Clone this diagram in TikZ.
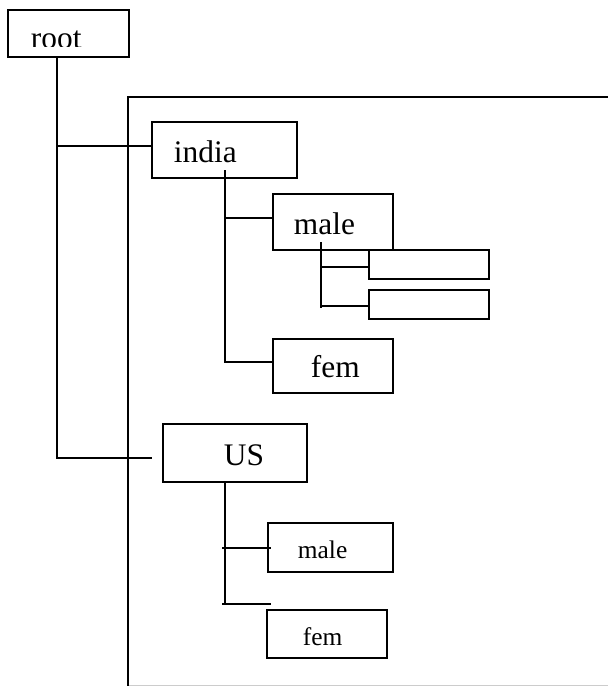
\documentclass[tikz,border=0pt]{standalone}
\usepackage{fontspec}
\setmainfont{Liberation Serif}
\usetikzlibrary{calc}
\begin{document}
\begin{tikzpicture}[x=1bp, y=-1bp,
  line width=1.9bp,
  box/.style={draw, rectangle, inner sep=0pt, line width=1.9bp},
  bigtxt/.style={inner sep=0pt, anchor=base west, font=\fontsize{31.5}{36}\selectfont},
  smalltxt/.style={inner sep=0pt, anchor=base west, font=\fontsize{25.5}{30}\selectfont},
  link/.style={draw, line width=1.9bp}]
\useasboundingbox (0,0) rectangle (608,686);

% outer frame (runs past the page on the right and bottom)
\draw (620,97) -- (128,97) -- (128,686);
\draw[black!20, line width=1bp] (129,685.5) -- (608,685.5);

% boxes
\node[box, minimum width=121bp, minimum height=47bp] (root)  at (68.5,33.5) {};
\node[box, minimum width=145bp, minimum height=56bp] (india) at (224.5,150) {};
\node[box, minimum width=120bp, minimum height=56bp] (imale) at (333,222) {};
\node[box, minimum width=120bp, minimum height=54bp] (ifem)  at (333,366) {};
\node[box, minimum width=120bp, minimum height=29bp] (leafa) at (429,264.5) {};
\node[box, minimum width=120bp, minimum height=29bp] (leafb) at (429,304.5) {};
\node[box, minimum width=144bp, minimum height=58bp] (us)    at (235,453) {};
\node[box, minimum width=125bp, minimum height=49bp] (umale) at (330.5,547.5) {};
\node[box, minimum width=120bp, minimum height=48bp] (ufem)  at (327,634) {};

% labels
\begin{scope}
  \clip (0,0) rectangle (608,46.7);
  \node[bigtxt] (root-t) at (30,48.5) {root};
\end{scope}
\node[bigtxt] (india-t) at (173,162) {india};
\node[bigtxt] (imale-t) at (293,234) {male};
\node[bigtxt] (ifem-t)  at (310,377) {fem};
\node[bigtxt] (us-t)    at (223,465) {US};
\node[smalltxt] (umale-t) at (297,558) {male};
\node[smalltxt] (ufem-t)  at (302,645) {fem};

% root trunk and its branches
\coordinate (rtrunk) at ($(root.south)+(-11.5,0)$);
\coordinate (usj) at ($(us.west)+(-10,5)$);
\draw[link] (rtrunk) |- (usj);
\coordinate (indj) at ($(india.west)+(0,-4)$);
\draw[link] (rtrunk |- indj) -- (indj);

% india trunk
\coordinate (itrunk) at ($(india.center)+(0.5,20)$);
\coordinate (ifemj) at ($(ifem.west)+(0,-4)$);
\draw[link] (itrunk) |- (ifemj);
\coordinate (imalej) at ($(imale.west)+(0,-4)$);
\draw[link] (itrunk |- imalej) -- (imalej);

% male trunk with two empty leaves
\coordinate (mtrunk) at ($(imale.center)+(-12,20)$);
\coordinate (leafaj) at ($(leafa.west)+(0,2.5)$);
\coordinate (leafbj) at ($(leafb.west)+(0,1.5)$);
\draw[link] (mtrunk) -- ($(mtrunk |- leafbj)+(0,2)$);
\draw[link] (mtrunk |- leafaj) -- (leafaj);
\draw[link] (mtrunk |- leafbj) -- (leafbj);

% US trunk
\coordinate (utrunk) at ($(us.south)+(-10,0)$);
\coordinate (umalej) at ($(umale.west)+(4,0.5)$);
\coordinate (ufemj) at ($(ufem.north west)+(5,-5)$);
\draw[link] (utrunk) -- (utrunk |- ufemj);
\draw[link] ($(utrunk |- umalej)+(-3,0)$) -- (umalej);
\draw[link] ($(utrunk |- ufemj)+(-3,0)$) -- (ufemj);
\end{tikzpicture}
\end{document}
